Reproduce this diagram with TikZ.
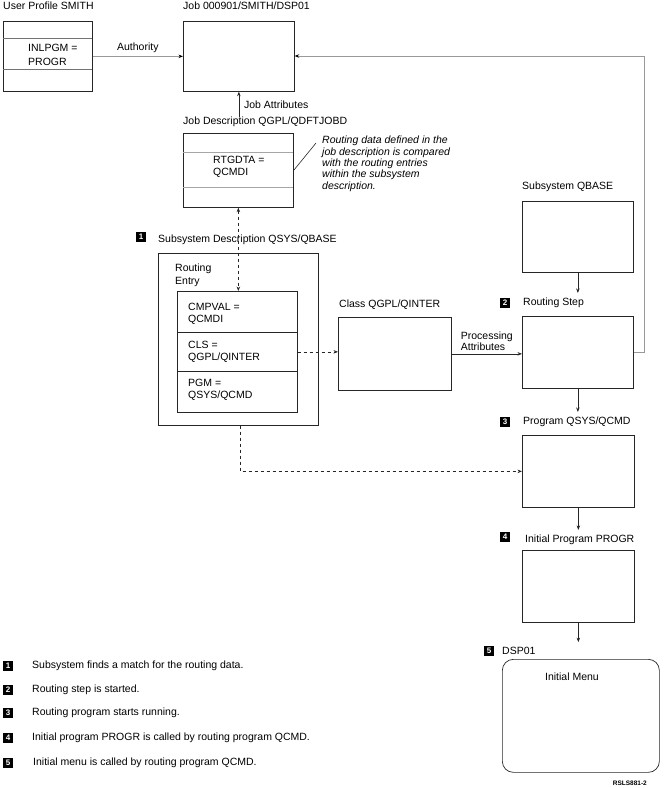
\documentclass[tikz,border=0pt]{standalone}
\usepackage{fontspec}
\setmainfont{Liberation Sans}
\usetikzlibrary{positioning,arrows.meta}

\begin{document}
\begin{tikzpicture}[x=1pt, y=-1pt, >={Stealth[length=4.5pt,width=3.5pt]},
        font=\fontsize{10.5}{11.5}\selectfont,
        box/.style={draw=black!85, line width=0.7pt, anchor=north west, inner sep=0pt},
        sep/.style={draw=black!55, line width=0.7pt},
        title/.style={anchor=west, inner sep=0pt},
        badge/.style={fill=black, text=white, font=\fontsize{8}{8}\bfseries\selectfont, minimum size=10pt, inner sep=0pt},
        flow/.style={draw=black!85, line width=0.6pt},
        grayflow/.style={draw=black!40, line width=0.8pt, -{Stealth[length=4.5pt,width=3.5pt,black]}},
        ]
        \useasboundingbox (0,0) rectangle (666,788);

        % user profile and job
        \node[title] (proftitle) at (3,6) {User Profile SMITH};
        \node[box, minimum width=89pt, minimum height=70pt] (profile) at (3,21) {};
        \draw[sep] (3,38) -- (92,38) (3,69) -- (92,69);
        \node[title, align=left, font=\fontsize{10.5}{14}\selectfont] (inlpgm) at (28,55) {INLPGM =\\PROGR};
        \node[title] (jobtitle) at (183,6) {Job 000901/SMITH/DSP01};
        \node[box, minimum width=111pt, minimum height=70pt] (job) at (183,21) {};

        % job description
        \node[title] (jdtitle) at (183,122) {Job Description QGPL/QDFTJOBD};
        \node[box, minimum width=110pt, minimum height=74pt] (jobdesc) at (183,133) {};
        \draw[sep, black!35] (183,152) -- (293,152) (183,187) -- (293,187);
        \node[title, align=left, font=\fontsize{10.5}{12}\selectfont] (rtgdta) at (213,167) {RTGDTA =\\QCMDI};
        \node[anchor=north west, inner sep=0pt, align=left, font=\fontsize{10.5}{11.3}\itshape\selectfont] (note) at (322,136)
            {Routing data defined in the\\job description is compared\\with the routing entries\\within the subsystem\\description.};

        % subsystem description
        \node[badge] (b1) at (141,237) {1};
        \node[title] (sdtitle) at (158,240) {Subsystem Description QSYS/QBASE};
        \node[box, minimum width=160pt, minimum height=172pt] (subsys) at (158,253) {};
        \node[title, align=left, font=\fontsize{10.5}{13}\selectfont] (rtentry) at (175,275) {Routing\\Entry};
        \node[box, minimum width=120pt, minimum height=121pt] (entry) at (177,291) {};
        \draw[flow] (177,332) -- (297,332) (177,371) -- (297,371);
        \node[title, align=left, font=\fontsize{10.5}{12}\selectfont] (cmpval) at (188,314) {CMPVAL =\\QCMDI};
        \node[title, align=left, font=\fontsize{10.5}{12}\selectfont] (cls) at (188,352) {CLS =\\QGPL/QINTER};
        \node[title, align=left, font=\fontsize{10.5}{12}\selectfont] (pgm) at (188,390) {PGM =\\QSYS/QCMD};

        % class
        \node[title] (classtitle) at (339,305) {Class QGPL/QINTER};
        \node[box, minimum width=113pt, minimum height=73pt] (class) at (338,317) {};

        % right column
        \node[title] (qbtitle) at (522,187) {Subsystem QBASE};
        \node[box, minimum width=111pt, minimum height=71pt] (qbase) at (522,201) {};
        \node[badge] (b2) at (505,303) {2};
        \node[title] (steptitle) at (523,303) {Routing Step};
        \node[box, minimum width=111pt, minimum height=72pt] (step) at (522,316) {};
        \node[badge] (b3) at (505,422) {3};
        \node[title] (progtitle) at (523,422) {Program QSYS/QCMD};
        \node[box, minimum width=112pt, minimum height=72pt] (prog) at (522,435) {};
        \node[badge] (b4) at (505,537) {4};
        \node[title] (inittitle) at (525,540) {Initial Program PROGR};
        \node[box, minimum width=112pt, minimum height=72pt] (init) at (522,550) {};
        \node[badge] (b5) at (489,651) {5};
        \node[title] (dsptitle) at (502,651) {DSP01};
        \node[box, rounded corners=11pt, minimum width=157pt, minimum height=113pt] (dsp) at (502,659) {};
        \node[inner sep=0pt] (menu) at (572,677) {Initial Menu};
        \node[anchor=east, inner sep=0pt, font=\fontsize{6.5}{7}\bfseries\selectfont] (figid) at (647,783) {RSLS881-2};

        % legend
        \foreach \n/\y/\dx/\txt in {1/666/0/Subsystem finds a match for the routing data.,
                2/690/0/Routing step is started.,
                3/713/0/Routing program starts running.,
                4/738/0/Initial program PROGR is called by routing program QCMD.,
                5/763/1/Initial menu is called by routing program QCMD.}
            {
            \node[badge] (leg\n) at (8,\y) {\n};
            \node[title] (legtext\n) at (32+\dx,\y) {\txt};
            }

        % connectors
        \coordinate (rtn) at (644,56);
        \path[->]
        (profile) edge[grayflow] node[above, text=black, inner sep=3pt] {Authority} (job)
        (job.south |- jdtitle.north) edge[flow] node[right, inner sep=5pt] {Job Attributes} (job.south)
        (jobdesc.south) edge[flow, dashed, <->] (jobdesc.south |- entry.north)
        (entry.east) edge[flow, dashed] (entry.east -| class.west)
        (class.east) edge[flow] node[above, align=left, font=\fontsize{10.5}{11}\selectfont] {Processing\\Attributes} (class.east -| step.west)
        (qbase.south) edge[flow, shorten >=5pt] (qbase.south |- steptitle.north)
        (step.south) edge[flow, shorten >=5pt] (step.south |- progtitle.north)
        (prog.south) edge[flow, shorten >=5pt] (prog.south |- inittitle.north)
        (init.south) edge[flow, shorten >=5pt] (init.south |- dsptitle.north)
        ;
        \draw[flow] (jobdesc.east) -- ([shift={(-6,7)}]note.north west);
        \draw[flow, dashed, ->] ([xshift=2pt]subsys.south) |- (prog.west);
        \draw[grayflow] (step.east) -- (step.east -| rtn) -- (rtn) -- (rtn -| job.east);
    \end{tikzpicture}
\end{document}
